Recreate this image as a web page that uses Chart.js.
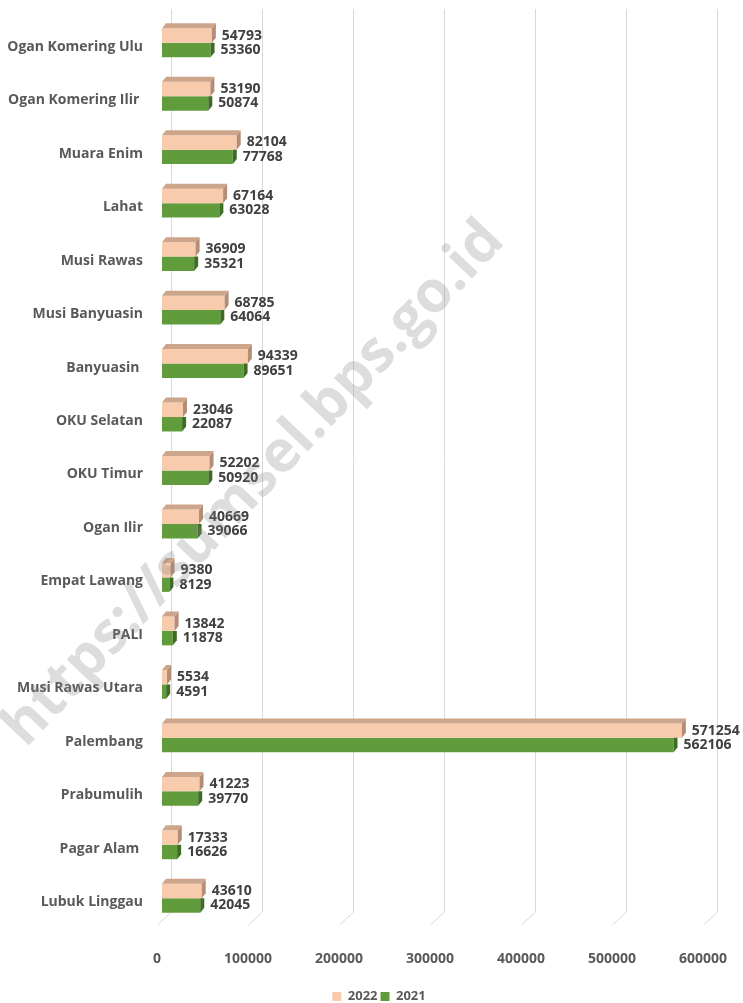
<!DOCTYPE html>
<html>
<head>
<meta charset="utf-8">
<script src="https://cdn.jsdelivr.net/npm/chart.js@4.4.1/dist/chart.umd.min.js"></script>
<style>
  html, body { margin: 0; padding: 0; background: #fff; }
  #wrap { width: 743px; height: 1003px; }
</style>
</head>
<body>
<div id="wrap"><canvas id="chart" width="743" height="1003"></canvas></div>
<script>
const regions = [
  "Ogan Komering Ulu", "Ogan Komering Ilir ", "Muara Enim", "Lahat", "Musi Rawas",
  "Musi Banyuasin", "Banyuasin ", "OKU Selatan", "OKU Timur", "Ogan Ilir",
  "Empat Lawang", "PALI", "Musi Rawas Utara", "Palembang", "Prabumulih",
  "Pagar Alam ", "Lubuk Linggau"
];
const values2022 = [54793, 53190, 82104, 67164, 36909, 68785, 94339, 23046, 52202, 40669,
  9380, 13842, 5534, 571254, 41223, 17333, 43610];
const values2021 = [53360, 50874, 77768, 63028, 35321, 64064, 89651, 22087, 50920, 39066,
  8129, 11878, 4591, 562106, 39770, 16626, 42045];
const xTicks = [0, 100000, 200000, 300000, 400000, 500000, 600000];

const FONT = "'Open Sans', sans-serif";
const GRAY = "#595959";
const DX = 4, DY = 5;

// back wall grid lines + floor diagonals
const wallGrid = {
  id: "wallGrid",
  afterLayout(chart) {
    // nudge the legend to where the original sits
    const lg = chart.legend;
    lg.left += 25; lg.right += 25;
    lg.top += 10; lg.bottom += 10;
  },
  beforeDatasetsDraw(chart) {
    const ctx = chart.ctx;
    const x = chart.scales.x;
    ctx.save();
    ctx.strokeStyle = "#d9d9d9";
    ctx.lineWidth = 1;
    xTicks.forEach(v => {
      const px = Math.round(x.getPixelForValue(v)) + 0.5;
      ctx.beginPath();
      ctx.moveTo(px + 9, 9);
      ctx.lineTo(px + 9, 912);
      ctx.lineTo(px - 5, 925);
      ctx.stroke();
    });
    ctx.restore();
  }
};

// 3d faces and value labels
const bar3d = {
  id: "bar3d",
  afterDatasetsDraw(chart) {
    const ctx = chart.ctx;
    const faces = [
      { top: "#cda58b", side: "#b48d76" },
      { top: null, side: "#3e6c25" }
    ];
    ctx.save();
    [1, 0].forEach(di => {
      const meta = chart.getDatasetMeta(di);
      const data = chart.data.datasets[di].data;
      meta.data.forEach((bar, i) => {
        const x0 = bar.base, x1 = bar.x;
        const yT = bar.y - bar.height / 2, yB = bar.y + bar.height / 2;
        ctx.fillStyle = faces[di].side;
        ctx.beginPath();
        if (di === 0) {
          ctx.moveTo(x1, yT); ctx.lineTo(x1 + DX, yT - DY);
        } else {
          ctx.moveTo(x1, yT); ctx.lineTo(x1 + DX, yT);
        }
        ctx.lineTo(x1 + DX, yB - DY); ctx.lineTo(x1, yB);
        ctx.closePath(); ctx.fill();
        if (faces[di].top) {
          ctx.fillStyle = faces[di].top;
          ctx.beginPath();
          ctx.moveTo(x0, yT); ctx.lineTo(x0 + DX, yT - DY);
          ctx.lineTo(x1 + DX, yT - DY); ctx.lineTo(x1, yT);
          ctx.closePath(); ctx.fill();
        }
        ctx.fillStyle = "#404040";
        ctx.font = "bold 14px " + FONT;
        ctx.textAlign = "left";
        ctx.textBaseline = "middle";
        ctx.fillText(String(data[i]), x1 + 10, bar.y);
      });
    });
    ctx.restore();
  },
  afterDraw(chart) {
    const ctx = chart.ctx;
    ctx.save();
    ctx.translate(254, 484);
    ctx.rotate(-46.5 * Math.PI / 180);
    ctx.fillStyle = "rgba(128,128,128,0.27)";
    ctx.font = "bold 58px " + FONT;
    ctx.textAlign = "center";
    ctx.textBaseline = "middle";
    ctx.fillText("https://sumsel.bps.go.id", 0, 0);
    ctx.restore();
  }
};

new Chart(document.getElementById("chart"), {
  type: "bar",
  data: {
    labels: regions,
    datasets: [
      { label: "2022", data: values2022, backgroundColor: "#f8cbad" },
      { label: "2021", data: values2021, backgroundColor: "#609b3c" }
    ]
  },
  options: {
    indexAxis: "y",
    responsive: false,
    animation: false,
    categoryPercentage: 0.54,
    barPercentage: 1,
    layout: { padding: { top: 16, left: 0, right: 35, bottom: 0 } },
    scales: {
      x: {
        min: 0,
        max: 600000,
        afterBuildTicks(scale) { scale.ticks = xTicks.map(v => ({ value: v })); },
        afterFit(scale) {
          scale.height = 52;
          scale.paddingLeft = 0; scale.paddingRight = 0;
        },
        grid: { display: false },
        border: { display: false },
        ticks: {
          callback: v => String(v),
          labelOffset: -5,
          padding: 18,
          color: GRAY,
          font: { family: FONT, size: 14, weight: "bold" }
        }
      },
      y: {
        afterFit(scale) {
          scale.width = 162;
          scale.paddingTop = 0; scale.paddingBottom = 0;
        },
        grid: { display: false },
        border: { display: false },
        ticks: {
          labelOffset: 4,
          padding: 11,
          color: GRAY,
          font: { family: FONT, size: 14, weight: "bold" }
        }
      }
    },
    plugins: {
      legend: {
        position: "bottom",
        labels: {
          boxWidth: 9,
          boxHeight: 9,
          padding: 3,
          color: GRAY,
          font: { family: FONT, size: 13, weight: "bold" }
        }
      },
      tooltip: { enabled: false }
    }
  },
  plugins: [wallGrid, bar3d]
});
</script>
</body>
</html>
